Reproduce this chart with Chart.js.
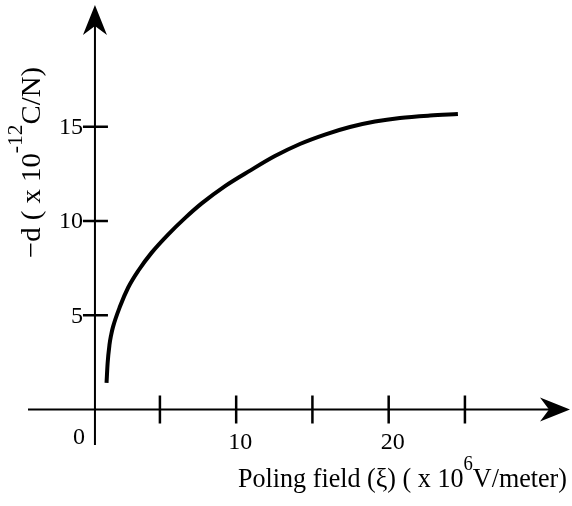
<!DOCTYPE html>
<html>
<head>
<meta charset="utf-8">
<script src="https://cdn.jsdelivr.net/npm/chart.js@4/dist/chart.umd.min.js"></script>
<style>
  body { margin: 0; background: #fff; }
  canvas { display: block; }
</style>
</head>
<body>
<canvas id="myChart" width="572" height="506"></canvas>
<script>
// poling field (x 10^6 V/meter) and -d (x 10^-12 C/N)
var fieldValues = [1.50, 1.57, 1.69, 1.80, 1.92, 2.38, 2.92, 3.58, 4.46, 5.55, 6.64, 7.74, 9.27, 10.91, 12.54, 14.18, 15.82, 17.46, 19.10, 20.74, 22.71, 24.54];
var dValues = [1.41, 2.45, 3.42, 3.95, 4.37, 5.46, 6.47, 7.36, 8.32, 9.29, 10.15, 10.93, 11.85, 12.67, 13.44, 14.08, 14.58, 14.98, 15.27, 15.46, 15.59, 15.67];

var xTicks = [5, 10, 15, 20, 25];
var xTickLabels = ['10', '20'];
var yTicks = [5, 10, 15];
var yTickLabels = ['5', '10', '15'];
var yAxisAt = 0.74; // the vertical axis sits a little right of x = 0

var serif = '"Liberation Serif", "Times New Roman", serif';

// draws text in pieces (normal + superscript), squeezed to a given width
function drawRun(ctx, parts, width) {
    var natural = 0;
    parts.forEach(function (p) {
        ctx.font = p.size + 'px ' + serif;
        p.w = ctx.measureText(p.t).width;
        natural += p.w;
    });
    ctx.save();
    ctx.scale(width / natural, 1);
    var x = 0;
    parts.forEach(function (p) {
        ctx.font = p.size + 'px ' + serif;
        ctx.fillText(p.t, x, -p.rise);
        x += p.w;
    });
    ctx.restore();
}

function arrowHead(ctx, tipX, tipY, dx, dy) {
    // dx, dy: unit direction the arrow points to
    var len = 30, half = 12, notch = 21;
    var px = -dy, py = dx;
    ctx.beginPath();
    ctx.moveTo(tipX, tipY);
    ctx.lineTo(tipX - dx * len + px * half, tipY - dy * len + py * half);
    ctx.lineTo(tipX - dx * notch, tipY - dy * notch);
    ctx.lineTo(tipX - dx * len - px * half, tipY - dy * len - py * half);
    ctx.closePath();
    ctx.fill();
}

var axesPlugin = {
    id: 'handAxes',
    afterDatasetsDraw: function (chart) {
        var ctx = chart.ctx;
        var xs = chart.scales.x, ys = chart.scales.y;
        var x0 = xs.getPixelForValue(yAxisAt);
        var y0 = ys.getPixelForValue(0);
        var left = xs.getPixelForValue(xs.min), right = xs.getPixelForValue(xs.max);
        var top = ys.getPixelForValue(ys.max), bottom = ys.getPixelForValue(ys.min);

        ctx.save();
        ctx.strokeStyle = '#000';
        ctx.fillStyle = '#000';
        ctx.lineWidth = 2;

        // axis lines
        ctx.beginPath();
        ctx.moveTo(left, y0);
        ctx.lineTo(right - 20, y0);
        ctx.moveTo(x0, bottom);
        ctx.lineTo(x0, top + 20);
        ctx.stroke();
        arrowHead(ctx, right, y0, 1, 0);
        arrowHead(ctx, x0, top, 0, -1);

        // x ticks
        ctx.lineWidth = 2.5;
        ctx.beginPath();
        xTicks.forEach(function (v) {
            var px = xs.getPixelForValue(v);
            ctx.moveTo(px, y0 - 14);
            ctx.lineTo(px, y0 + 14);
        });
        // y ticks
        yTicks.forEach(function (v) {
            var py = ys.getPixelForValue(v);
            ctx.moveTo(x0 - 12, py);
            ctx.lineTo(x0 + 13, py);
        });
        ctx.stroke();

        ctx.font = '24px ' + serif;
        ctx.textAlign = 'center';
        ctx.textBaseline = 'alphabetic';
        xTickLabels.forEach(function (t) {
            ctx.fillText(t, xs.getPixelForValue(Number(t)) + 4, y0 + 39);
        });
        ctx.textAlign = 'right';
        ctx.fillText('0', x0 - 10, y0 + 34);
        ctx.textBaseline = 'middle';
        yTickLabels.forEach(function (t) {
            ctx.fillText(t, x0 - 12, ys.getPixelForValue(Number(t)) + 1);
        });

        // axis titles
        ctx.textAlign = 'left';
        ctx.textBaseline = 'alphabetic';
        ctx.save();
        ctx.translate(238, 487);
        drawRun(ctx, [
            { t: 'Poling field (\u03be) ( x 10', size: 28, rise: 0 },
            { t: '6', size: 20, rise: 17 },
            { t: 'V/meter)', size: 28, rise: 0 }
        ], 329);
        ctx.restore();

        ctx.save();
        ctx.translate(40, 258);
        ctx.rotate(-Math.PI / 2);
        drawRun(ctx, [
            { t: '\u2212d ( x 10', size: 28, rise: 0 },
            { t: '-12', size: 21, rise: 18 },
            { t: 'C/N)', size: 28, rise: 0 }
        ], 191);
        ctx.restore();

        ctx.restore();
    }
};

var ctx = document.getElementById('myChart').getContext('2d');
var chart = new Chart(ctx, {
    type: 'line',
    data: {
        datasets: [{
            data: fieldValues.map(function (x, i) { return { x: x, y: dValues[i] }; }),
            borderColor: '#000',
            borderWidth: 4,
            pointRadius: 0,
            fill: false,
            cubicInterpolationMode: 'monotone'
        }]
    },
    options: {
        responsive: false,
        animation: false,
        devicePixelRatio: 1,
        layout: { padding: { left: 28, right: 2, top: 5, bottom: 61 } },
        plugins: { legend: { display: false }, tooltip: { enabled: false } },
        scales: {
            x: { type: 'linear', min: -3.65, max: 31.89, display: false },
            y: { type: 'linear', min: -1.88, max: 21.45, display: false }
        }
    },
    plugins: [axesPlugin]
});
</script>
</body>
</html>
